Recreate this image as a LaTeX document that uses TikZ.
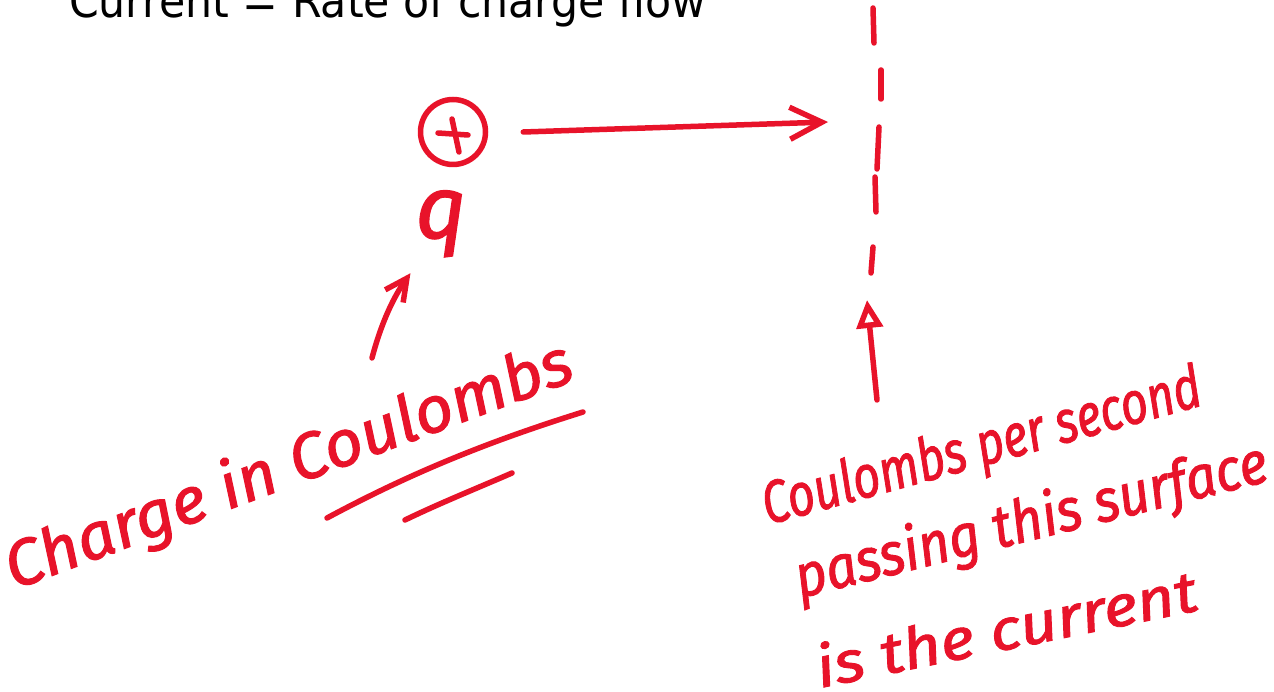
\documentclass[tikz,border=0pt]{standalone}
\usepackage{fontspec}
\usetikzlibrary{arrows.meta,calc}
\newfontfamily\titlefont{DejaVu Sans}
\newfontfamily\handfont{Fira Sans}[FakeBold=1.6]
\definecolor{inkred}{RGB}{232,19,42}
\begin{document}
\begin{tikzpicture}[x=1pt,y=-1pt,
  ink/.style={draw=inkred, line width=5.5pt, line cap=round, line join=round},
  handtext/.style={text=inkred, inner sep=0pt, font=\handfont\itshape},
  titletext/.style={text=black, inner sep=0pt, font=\titlefont},
  barb/.style={-{Straight Barb[length=#1,width=#1]}},
]
\useasboundingbox[fill=white] (0,0) rectangle (1274,692);

% title (cut at the top edge)
\node[titletext, anchor=base west] (title) at (69,17.3)
  {\resizebox{637pt}{1.1\height}{\fontsize{42}{44}\selectfont Current = Rate of charge flow}};

% charge
\node[ink, circle, minimum size=65pt, inner sep=0pt] (charge) at (453,132) {};
\draw[ink] (438,133) -- (468,135);
\draw[ink] (452,119) -- (459,152);

\node[handtext, anchor=base] (q) at (441,238) {\fontsize{88}{90}\selectfont q};

% surface (dashed)
\draw[ink] (873,8) -- (874,43);
\draw[ink] (881,70) -- (881,99);
\draw[ink] (879,127) -- (877,169);
\draw[ink] (875,177) -- (876,212);
\draw[ink] (873,247) -- (871,273);
\coordinate (hit) at (828,122);
\coordinate (surf) at (867,300);

% motion arrow
\draw[ink, barb=32pt] ([xshift=35pt]charge.east) -- (hit);

% left label
\node[handtext, anchor=base west, rotate=20.5] (lbl) at (14,590)
  {\resizebox{601pt}{1.15\height}{\fontsize{56}{60}\selectfont Charge in Coulombs}};
\draw[ink] (327,518) .. controls (420,468) and (500,438) .. (583,412);
\draw[ink] (405,520) .. controls (440,503) and (480,487) .. (512,473);
\coordinate (tail1) at (372,358);
\draw[ink, barb=22pt] (tail1) .. controls (382,320) and (395,295) .. ([xshift=-5pt,yshift=-16pt]q.south west);

% right label
\node[handtext, anchor=base west, rotate=15.4] (r1) at (768,525)
  {\resizebox{453pt}{1.15\height}{\fontsize{52}{56}\selectfont Coulombs per second}};
\node[handtext, anchor=base west, rotate=14] (r2) at (800,598)
  {\resizebox{485pt}{1.15\height}{\fontsize{52}{56}\selectfont passing this surface}};
\node[handtext, anchor=base west, rotate=11.6] (r3) at (820,688)
  {\resizebox{388pt}{1.1\height}{\fontsize{52}{56}\selectfont is the current}};
\coordinate (tail2) at (877,400);
\draw[ink, -{Triangle[open,length=28pt,width=26pt]}] (tail2) -- (surf);
\end{tikzpicture}
\end{document}
